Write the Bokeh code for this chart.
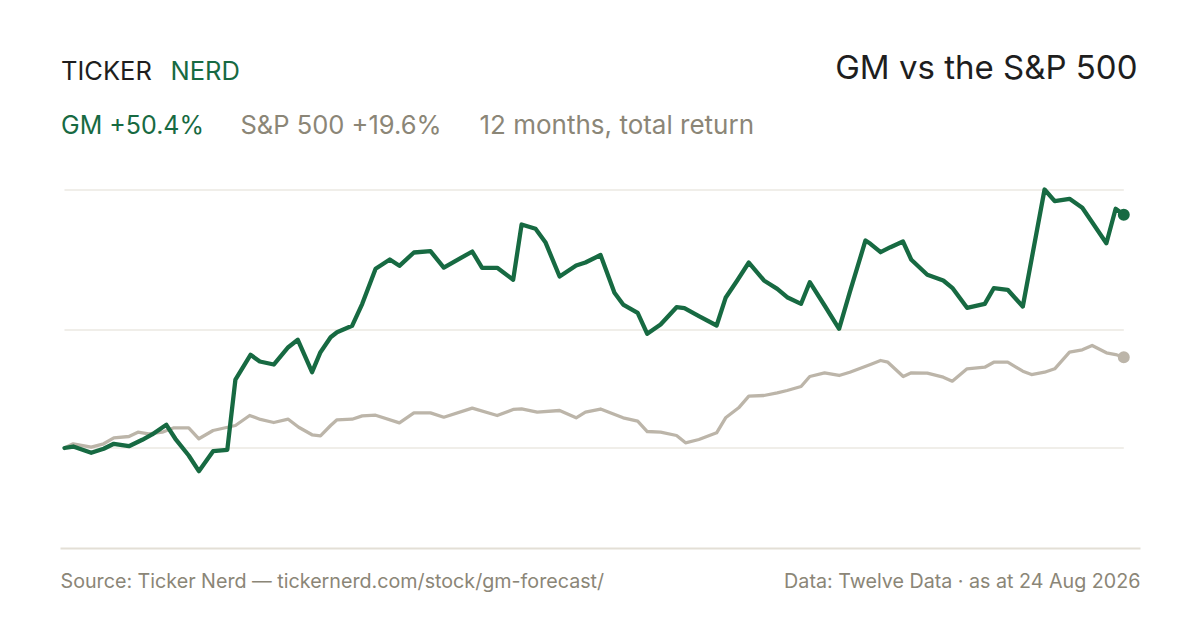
from bokeh.plotting import figure
from bokeh.models import Label, BoxAnnotation, Range1d
from bokeh.embed import file_html
from bokeh.resources import INLINE

# ---- data: days since start of the 12-month window, total return in % ----
gm_day = [0, 3.0, 9.2, 13.5, 17.0, 22.2, 26.8, 30.2, 35.1, 38.2, 42.8, 46.3, 51.2, 56.1,
          58.9, 64.1, 67.3, 72.1, 77.1, 80.4, 85.3, 88.2, 91.7, 93.9, 99.1, 102.6, 107.2,
          112.1, 115.4, 120.4, 126.1, 130.7, 140.5, 143.9, 149.1, 154.6, 157.5, 162.3,
          165.7, 170.6, 176.3, 179.5, 184.7, 189.5, 192.5, 197.5, 200.8, 205.4, 210.9,
          213.6, 218.6, 224.7, 227.8, 231.8, 235.8, 241.0, 245.6, 249.0, 253.8, 256.8,
          261.9, 266.9, 270.6, 276.0, 277.7, 281.2, 284.6, 288.9, 291.8, 297.3, 302.8,
          305.9, 311.0, 317.1, 320.2, 325.0, 330.2, 337.7, 341.2, 346.3, 350.7, 354.1,
          359.0, 362.2, 365]
gm_ret = [0.0, 0.32, -1.04, -0.17, 0.91, 0.39, 1.77, 2.92, 5.01, 1.99, -1.62, -5.01, -0.69,
          -0.39, 14.79, 20.13, 18.68, 18.03, 21.77, 23.37, 16.37, 20.69, 23.93, 25.01, 26.39,
          31.14, 38.70, 40.71, 39.35, 42.22, 42.51, 38.98, 42.44, 38.92, 38.92, 36.33, 48.27,
          47.34, 44.45, 37.04, 39.42, 40.06, 41.68, 33.52, 30.99, 29.20, 24.67, 26.67, 30.41,
          30.19, 28.47, 26.46, 32.44, 36.18, 40.06, 36.18, 34.38, 32.57, 31.14, 35.81, 30.78,
          25.75, 33.65, 44.82, 44.10, 42.29, 43.37, 44.60, 40.65, 37.41, 36.18, 34.60, 30.28,
          31.14, 34.51, 34.17, 30.56, 55.83, 53.30, 53.82, 51.88, 48.77, 44.23, 51.66, 50.4]

spx_day = [0, 3.0, 9.2, 13.5, 17.0, 22.2, 25.3, 29.0, 33.7, 37.7, 42.8, 46.3, 51.2, 58.9,
           63.8, 67.5, 72.1, 77.1, 80.7, 85.3, 88.2, 91.7, 93.9, 99.1, 102.6, 107.2, 115.4,
           120.4, 126.1, 130.7, 140.5, 149.1, 154.6, 157.5, 162.9, 170.6, 176.3, 179.5,
           184.7, 192.5, 197.5, 200.8, 205.4, 210.9, 214.0, 218.6, 224.7, 227.8, 232.3,
           235.8, 241.0, 245.6, 249.0, 253.8, 256.8, 261.9, 266.9, 270.6, 277.7, 281.2,
           283.7, 289.0, 291.8, 297.3, 302.8, 305.9, 311.0, 317.1, 320.2, 325.0, 330.2,
           333.2, 337.7, 341.2, 346.3, 350.7, 354.1, 359.0, 362.2, 365]
spx_ret = [0.0, 0.91, 0.17, 0.91, 2.20, 2.48, 3.41, 3.07, 3.41, 4.36, 4.36, 1.99, 3.78, 4.86,
           7.02, 6.16, 5.51, 6.22, 4.49, 2.85, 2.63, 4.86, 6.09, 6.22, 6.95, 7.08, 5.44, 7.60,
           7.60, 6.65, 8.60, 7.02, 8.32, 8.47, 7.73, 8.10, 6.52, 7.73, 8.42, 6.52, 5.79, 3.56,
           3.41, 2.70, 1.12, 1.84, 3.28, 6.52, 8.68, 11.19, 11.34, 11.92, 12.42, 13.28, 15.44,
           16.24, 15.66, 16.37, 18.03, 18.90, 18.53, 15.44, 16.24, 16.16, 15.29, 14.43, 17.11,
           17.45, 18.53, 18.53, 16.59, 15.87, 16.37, 17.11, 20.69, 21.21, 22.14, 20.56, 20.19,
           19.6]

grid_levels = [0.0, 25.5, 55.7]

brand_left = "TICKER"
brand_right = "NERD"
title_text = "GM vs the S&P 500"
gm_label = "GM +50.4%"
spx_label = "S&P 500 +19.6%"
period_label = "12 months, total return"
source_text = "Source: Ticker Nerd \u2014 tickernerd.com/stock/gm-forecast/"
data_text = "Data: Twelve Data \u00b7 as at 24 Aug 2026"

GREEN = "#176a42"
BEIGE = "#bcb5a9"
MUTED = "#8b8677"
DARK = "#1e1e1e"
GRID = "#ebe8e2"
FONT = "Inter"

W, H = 1184, 614
p = figure(width=W, height=H, output_backend="svg", toolbar_location=None,
           min_border=0, min_border_left=0, min_border_right=0,
           min_border_top=0, min_border_bottom=0,
           x_range=Range1d(-22.05, 385.92), y_range=Range1d(-35.96, 96.65))
p.axis.visible = False
p.grid.visible = False
p.outline_line_color = None
p.background_fill_color = "white"
p.border_fill_color = "white"

# gridlines across the data window
for g in grid_levels:
    p.segment(x0=gm_day[0], x1=gm_day[-1], y0=g, y1=g, line_color=GRID, line_width=1.5)

p.line(spx_day, spx_ret, line_color=BEIGE, line_width=3.3, line_join="round", line_cap="round")
p.line(gm_day, gm_ret, line_color=GREEN, line_width=4.3, line_join="round", line_cap="round")
p.scatter([spx_day[-1]], [spx_ret[-1]], size=12, fill_color=BEIGE, line_color=None)
p.scatter([gm_day[-1]], [gm_ret[-1]], size=12, fill_color=GREEN, line_color=None)

# separator line above footer
p.add_layout(BoxAnnotation(left=60, right=1140, bottom=65, top=67,
                           left_units="screen", right_units="screen",
                           bottom_units="screen", top_units="screen",
                           fill_color="#e3dfd6", fill_alpha=1, line_color=None))

def lab(text, x, y, size, color, align="left"):
    p.add_layout(Label(x=x, y=y, x_units="screen", y_units="screen", text=text,
                       text_font=FONT, text_font_size=f"{size}px", text_color=color,
                       text_align=align, text_baseline="alphabetic"))

lab(brand_left, 60.5, 544, 25.5, DARK)
lab(brand_right, 170, 544, 25.5, GREEN)
lab(title_text, 1137, 548, 33, DARK, "right")
lab(gm_label, 60.5, 490, 25, GREEN)
lab(spx_label, 240, 490, 25.5, MUTED)
lab(period_label, 479, 490, 26, MUTED)
lab(source_text, 60, 33.5, 19.7, MUTED)
lab(data_text, 1140, 33.5, 19.7, MUTED, "right")

open("out.html", "w").write(file_html(p, INLINE))
